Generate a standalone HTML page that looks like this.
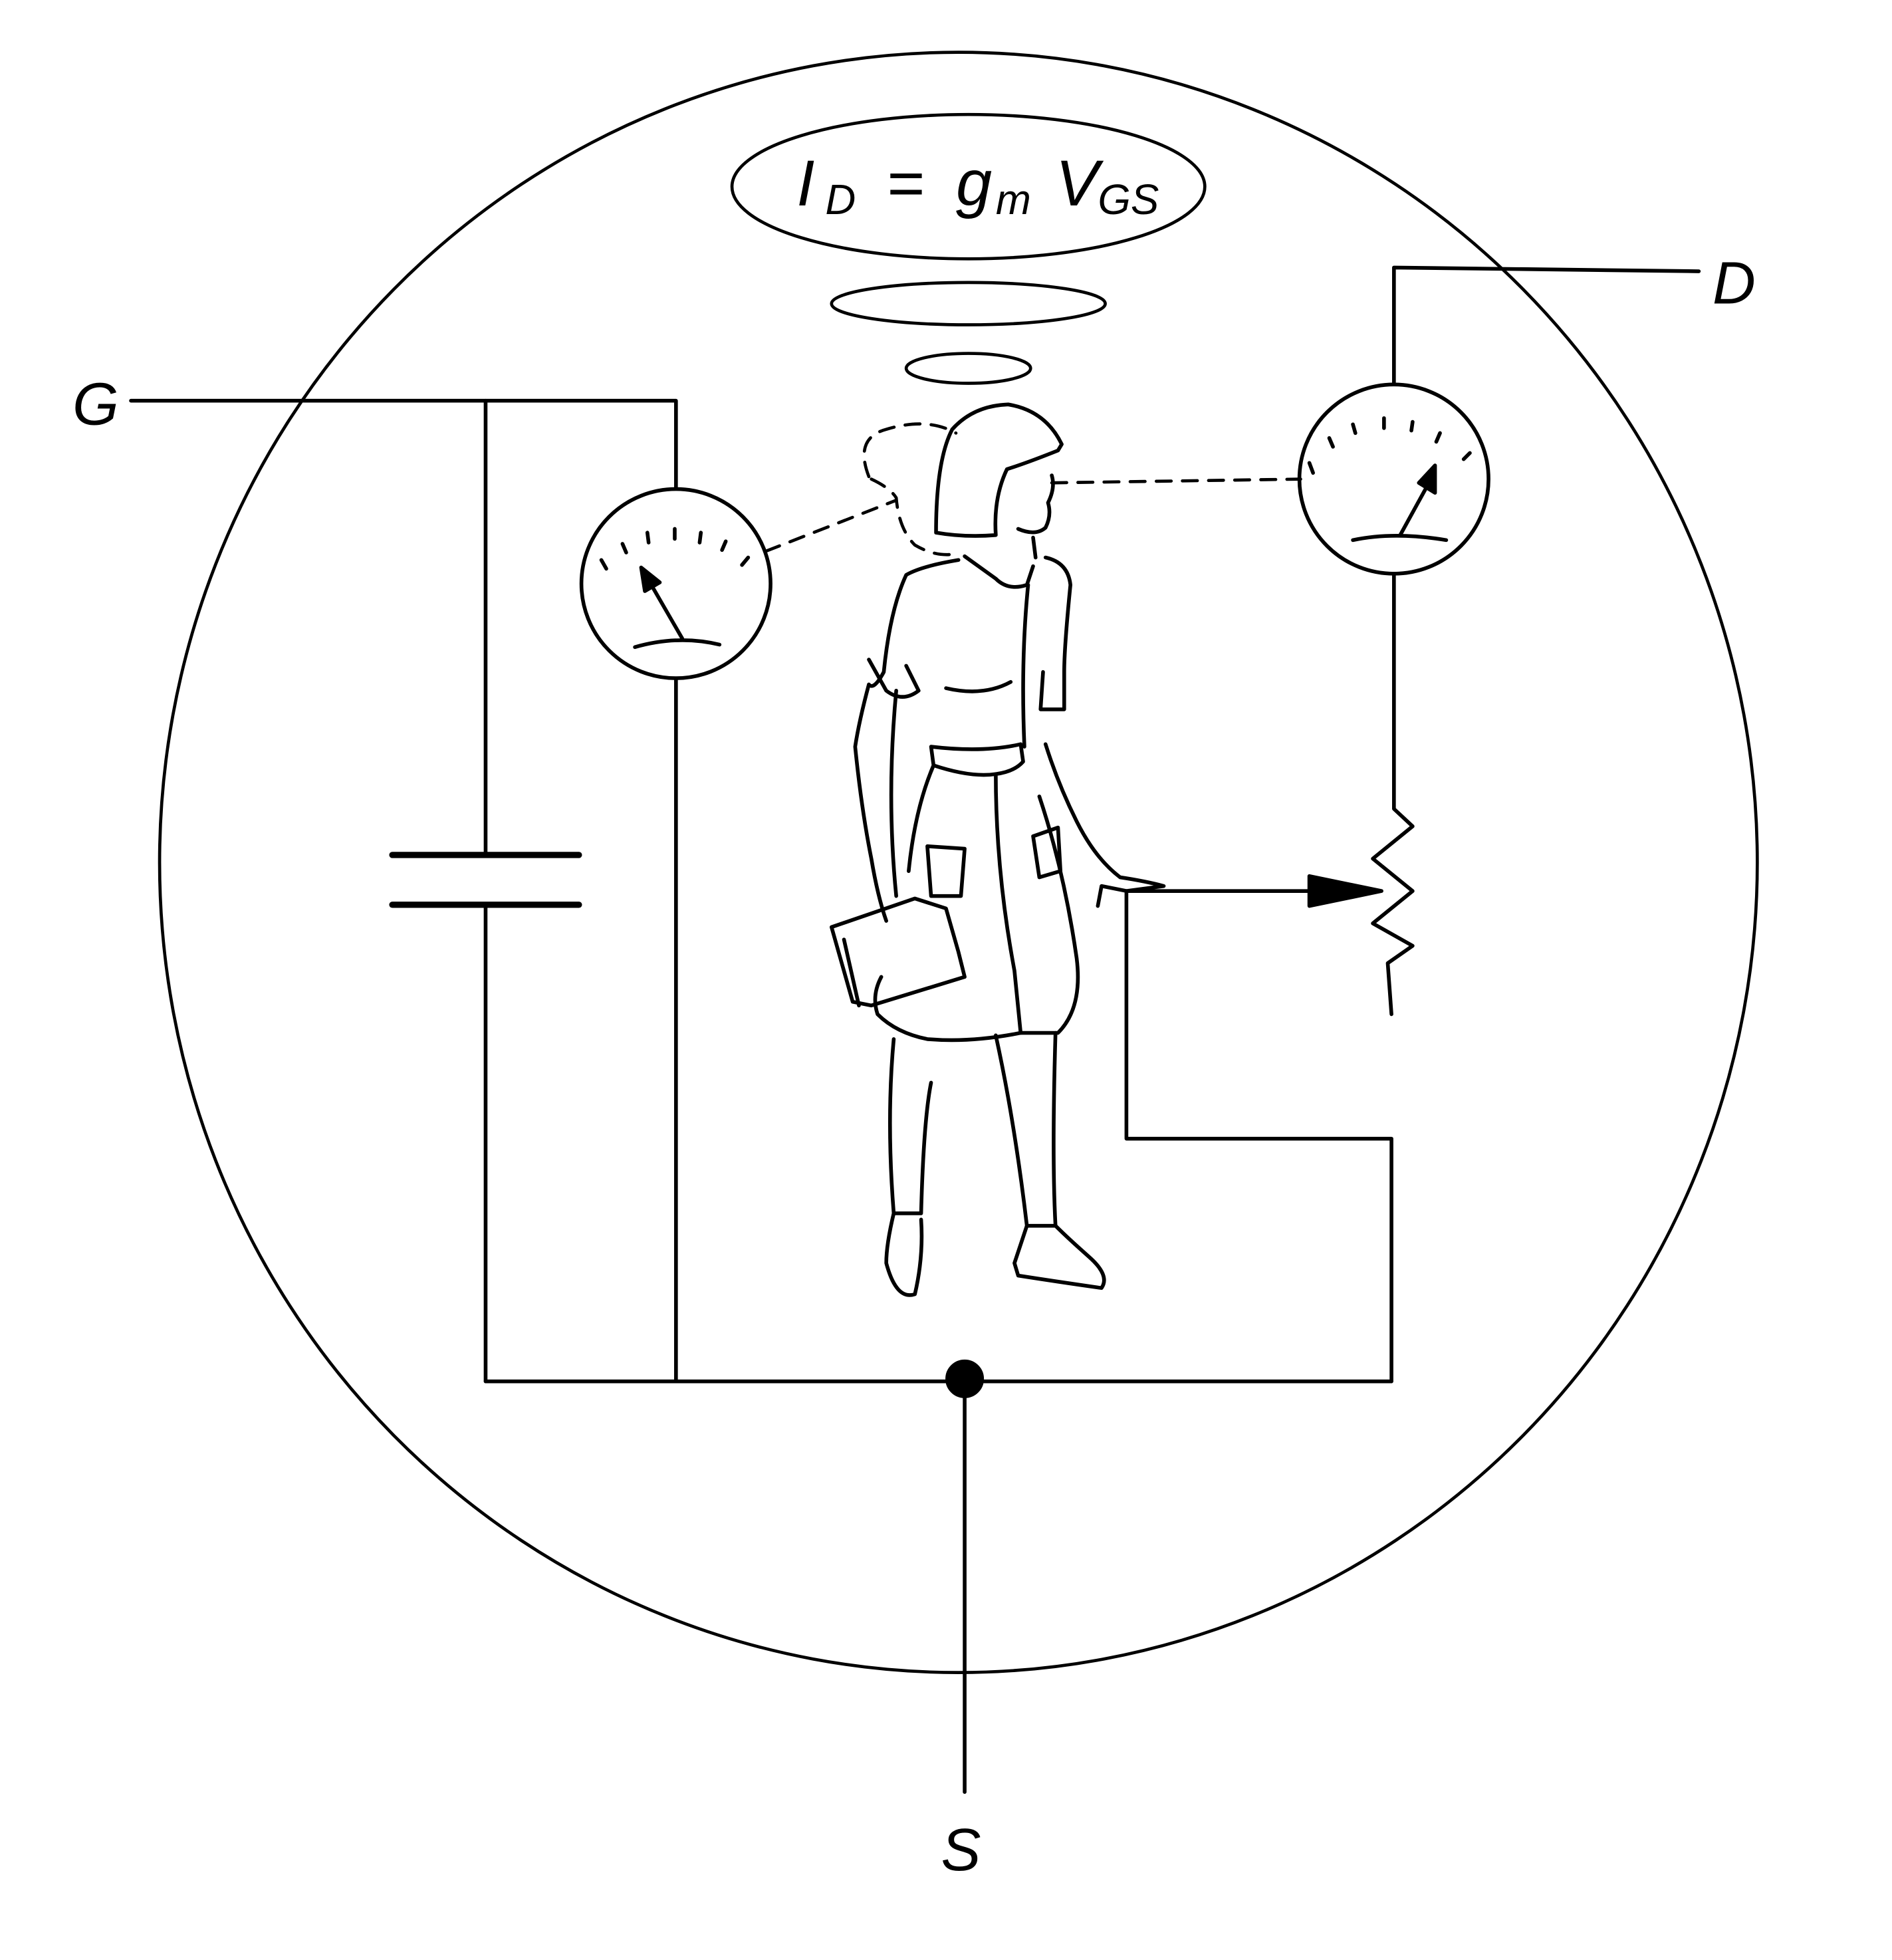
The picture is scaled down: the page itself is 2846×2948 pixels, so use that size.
<!DOCTYPE html>
<html><head><meta charset="utf-8"><style>html,body{margin:0;padding:0;background:#fff}svg{display:block}</style></head>
<body>
<svg width="2846" height="2948" viewBox="0 0 1520 1575" xmlns="http://www.w3.org/2000/svg" fill="none" stroke="#000" stroke-width="3" stroke-linecap="round" stroke-linejoin="round">
<ellipse cx="770" cy="693" rx="642" ry="651" stroke-width="2.5"/>
<ellipse cx="778" cy="150" rx="190" ry="58" stroke-width="2.5"/>
<ellipse cx="778" cy="244" rx="110" ry="17" stroke-width="2.5"/>
<ellipse cx="778" cy="296" rx="50" ry="12" stroke-width="2.5"/>
<g font-family="Liberation Sans, sans-serif" font-style="italic" fill="#000" stroke="none">
<text x="640" y="165" font-size="52">I</text>
<text x="663" y="172" font-size="34">D</text>
<text x="712" y="165" font-size="52">=</text>
<text x="768" y="165" font-size="52">g</text>
<text x="800" y="172" font-size="34">m</text>
<text x="848" y="165" font-size="52">V</text>
<text x="882" y="172" font-size="34">GS</text>
<text x="58" y="341" font-size="48">G</text>
<text x="1376" y="244" font-size="48">D</text>
<text x="756" y="1503" font-size="48">S</text>
</g>
<!-- gate side -->
<polyline points="105,322 543,322 543,392"/>
<line x1="390" y1="322" x2="390" y2="687"/>
<line x1="315" y1="687" x2="465" y2="687" stroke-width="5"/>
<line x1="315" y1="727" x2="465" y2="727" stroke-width="5"/>
<line x1="390" y1="727" x2="390" y2="1110"/>
<line x1="543" y1="546" x2="543" y2="1110"/>
<line x1="390" y1="1110" x2="1118" y2="1110"/>
<circle cx="775" cy="1108" r="14" fill="#000"/>
<line x1="775" y1="1108" x2="775" y2="1440"/>
<!-- left meter -->
<circle cx="543" cy="469" r="76"/>
<g stroke-width="3">
<line x1="483" y1="450" x2="487" y2="457"/><line x1="500" y1="437" x2="503" y2="444"/>
<line x1="520" y1="428" x2="521" y2="436"/><line x1="542" y1="425" x2="542" y2="433"/>
<line x1="563" y1="428" x2="562" y2="436"/><line x1="583" y1="435" x2="580" y2="442"/>
<line x1="601" y1="448" x2="596" y2="454"/>
<path d="M510,520 Q545,510 578,518"/>
<line x1="548" y1="513" x2="522" y2="468"/>
</g>
<polygon points="515,456 530,468 518,475" fill="#000"/>
<!-- drain side -->
<polyline points="1365,218 1120,215 1120,308"/>
<circle cx="1120" cy="385" r="76"/>
<line x1="1052" y1="372" x2="1055" y2="380"/><line x1="1068" y1="352" x2="1071" y2="359"/>
<line x1="1087" y1="341" x2="1089" y2="348"/><line x1="1112" y1="336" x2="1112" y2="344"/>
<line x1="1135" y1="339" x2="1134" y2="346"/><line x1="1157" y1="348" x2="1154" y2="355"/>
<line x1="1181" y1="364" x2="1176" y2="369"/>
<path d="M1087,434 Q1120,427 1162,434"/>
<line x1="1125" y1="430" x2="1147" y2="390"/>
<polygon points="1153,374 1153,396 1140,388" fill="#000"/>
<polyline points="1120,461 1120,650 1135,664 1103,690 1135,716 1103,742 1135,760 1115,774 1118,815"/>
<line x1="905" y1="716" x2="1060" y2="716"/>
<polygon points="1052,704 1052,728 1110,716" fill="#000"/>
<polyline points="905,716 905,915 1118,915 1118,1110"/>
<!-- dashed -->
<g stroke-dasharray="12,9" stroke-width="2.5">
<line x1="615" y1="443" x2="720" y2="402"/>
<line x1="845" y1="388" x2="1045" y2="385"/>
<path d="M698,383 Q686,352 712,345 Q745,335 768,348"/>
<path d="M700,385 Q715,392 720,400 Q722,425 735,438 Q752,448 768,445"/>
</g>
<!-- woman -->
<path d="M752,428 Q752,370 765,345 Q782,326 810,325 Q840,330 853,357 L850,362 Q825,372 809,377 Q798,400 800,430 Q775,432 752,428Z"/>
<path d="M845,382 Q848,392 842,404 Q845,414 840,424 Q832,431 818,425"/>
<path d="M830,432 L832,448"/>
<path d="M775,447 L800,465 Q810,475 825,470 L830,455"/>
<path d="M770,450 Q740,455 728,462 Q715,490 710,540 Q702,555 698,550 Q690,580 687,600 Q692,650 700,690 Q705,720 712,740"/>
<path d="M698,530 L712,555 Q725,565 738,555 L728,535"/>
<path d="M720,555 Q712,640 720,720"/>
<path d="M840,448 Q858,452 860,470 Q855,520 855,540 L855,570 L836,570 L838,540"/>
<path d="M826,470 Q820,530 823,600"/>
<path d="M748,600 L750,615 Q780,625 800,622 Q815,620 822,612 L820,598 Q790,605 748,600Z"/>
<path d="M750,615 Q735,650 730,700"/>
<path d="M840,598 Q850,630 865,660 Q880,690 900,705 Q920,708 935,712 L905,716 L885,712 L882,728"/>
<path d="M800,622 Q800,700 815,780 L820,830"/>
<path d="M835,640 Q855,700 865,770 Q870,810 850,830 L820,830 Q780,838 745,835 Q720,830 705,815 Q700,800 708,785"/>
<path d="M760,553 Q790,560 812,548"/>
<path d="M830,672 L850,665 L852,700 L835,705Z"/>
<path d="M745,680 L775,682 L772,720 L748,720Z"/>
<path d="M668,745 L735,722 L760,730 L770,765 L775,785 L700,808 L685,805Z"/>
<path d="M678,755 L690,808"/>
<path d="M718,835 Q712,900 718,975 L740,975 Q742,900 748,870"/>
<path d="M800,832 Q815,900 825,985 L848,985 Q845,930 848,830"/>
<path d="M718,975 Q712,1000 712,1015 Q720,1045 735,1040 Q742,1010 740,980"/>
<path d="M825,985 L815,1015 L818,1025 Q850,1030 885,1035 Q892,1025 875,1010 Q858,995 848,985"/>
</svg>
</body></html>
